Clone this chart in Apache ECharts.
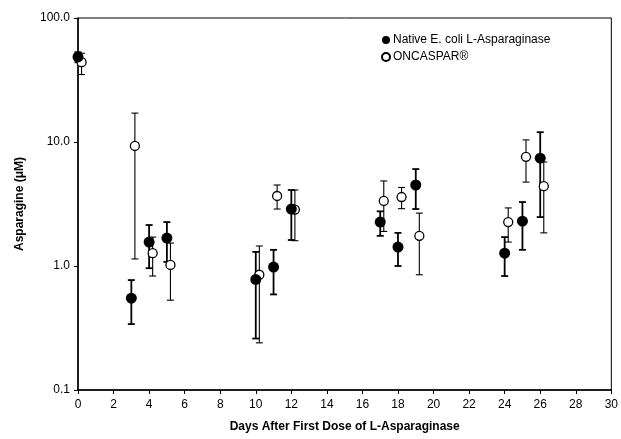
<!DOCTYPE html>
<html>
<head>
<meta charset="utf-8">
<script src="https://cdn.jsdelivr.net/npm/echarts@6/dist/echarts.min.js"></script>
<style>html,body{margin:0;padding:0;background:#fff}#c{width:621px;height:439px}</style>
</head>
<body>
<div id="c"></div>
<script>
// Native E. coli L-Asparaginase
const nativeDays  = [0, 3, 4, 5, 10, 11, 12, 17, 18, 19, 24, 25, 26];
const nativeMean  = [48.5, 0.55, 1.56, 1.68, 0.78, 0.98, 2.88, 2.26, 1.42, 4.5, 1.27, 2.3, 7.4];
const nativeLow   = [44, 0.34, 0.96, 1.08, 0.26, 0.59, 1.62, 1.75, 1.0, 2.88, 0.83, 1.35, 2.48];
const nativeHigh  = [53, 0.77, 2.14, 2.26, 1.3, 1.35, 4.1, 2.76, 1.85, 6.05, 1.71, 3.28, 12.0];
// ONCASPAR
const oncDays  = [0.2, 3.2, 4.2, 5.2, 10.2, 11.2, 12.2, 17.2, 18.2, 19.2, 24.2, 25.2, 26.2];
const oncMean  = [44, 9.3, 1.27, 1.02, 0.85, 3.67, 2.85, 3.35, 3.6, 1.75, 2.26, 7.6, 4.4];
const oncLow   = [35, 1.14, 0.83, 0.53, 0.24, 2.88, 1.6, 1.9, 2.9, 0.85, 1.56, 4.75, 1.85];
const oncHigh  = [52, 17.1, 1.71, 1.53, 1.45, 4.5, 4.1, 4.85, 4.3, 2.67, 2.94, 10.4, 6.9];

const xTicks = [0,2,4,6,8,10,12,14,16,18,20,22,24,26,28,30];
const yTicks = [0.1, 1, 10, 100];

const nativeName = 'Native E. coli L-Asparaginase';
const oncName = 'ONCASPAR®';

const toPts = (d, m) => d.map((x, i) => [x, m[i]]);
const toErr = (d, lo, hi) => d.map((x, i) => [x, lo[i], hi[i]]);

function errRender(width, dash) {
  return function (params, api) {
    const x = api.value(0), lo = api.value(1), hi = api.value(2);
    const pH = api.coord([x, hi]);
    const pL = api.coord([x, lo]);
    const w = 3.5;
    const style = { stroke: '#000', lineWidth: width, lineDash: dash };
    return {
      type: 'group',
      children: [
        { type: 'line', shape: { x1: pH[0], y1: pH[1], x2: pL[0], y2: pL[1] }, style },
        { type: 'line', shape: { x1: pH[0] - w, y1: pH[1], x2: pH[0] + w, y2: pH[1] }, style },
        { type: 'line', shape: { x1: pL[0] - w, y1: pL[1], x2: pL[0] + w, y2: pL[1] }, style }
      ]
    };
  };
}

const chart = echarts.init(document.getElementById('c'));
chart.setOption({
  animation: false,
  backgroundColor: '#fff',
  textStyle: { fontFamily: 'Liberation Sans, Arial, sans-serif' },
  grid: { left: 78, right: 9, top: 18, bottom: 49, show: true, borderColor: '#000', borderWidth: 1 },
  legend: {
    left: 376, top: 29, orient: 'vertical', itemGap: 5,
    itemWidth: 8, itemHeight: 8,
    textStyle: { fontSize: 12, color: '#000', fontFamily: 'Liberation Sans, Arial, sans-serif', padding: [0,0,0,-2] },
    data: [{ name: nativeName, icon: 'circle' }, { name: oncName, icon: 'circle' }]
  },
  xAxis: {
    type: 'value', min: 0, max: 30, interval: 2,
    name: 'Days After First Dose of L-Asparaginase',
    nameLocation: 'middle', nameGap: 31,
    nameTextStyle: { fontWeight: 'bold', fontSize: 12, color: '#000' },
    axisLine: { lineStyle: { color: '#000', width: 1.5 } },
    axisTick: { lineStyle: { color: '#000' }, length: 4 },
    axisLabel: { color: '#000', fontSize: 12, margin: 9 },
    splitLine: { show: false }
  },
  yAxis: {
    type: 'log', logBase: 10, min: 0.1, max: 100,
    name: 'Asparagine (μM)',
    nameLocation: 'middle', nameGap: 52,
    nameTextStyle: { fontWeight: 'bold', fontSize: 12, color: '#000' },
    axisLine: { show: true, lineStyle: { color: '#000', width: 1.5 } },
    axisTick: { show: true, lineStyle: { color: '#000' }, length: 4 },
    axisLabel: { color: '#000', fontSize: 12, margin: 8, formatter: v => Number(v).toFixed(1) },
    splitLine: { show: false }
  },
  series: [
    { type: 'custom', name: 'errOnc', data: toErr(oncDays, oncLow, oncHigh), renderItem: errRender(1.1, null), z: 1, silent: true, encode: { x: 0, y: [1, 2] } },
    { type: 'custom', name: 'errNative', data: toErr(nativeDays, nativeLow, nativeHigh), renderItem: errRender(1.8, null), z: 2, silent: true, encode: { x: 0, y: [1, 2] } },
    { type: 'scatter', name: oncName, data: toPts(oncDays, oncMean), symbol: 'circle', symbolSize: 9,
      itemStyle: { color: '#fff', borderColor: '#000', borderWidth: 1.3, opacity: 1 }, z: 3 },
    { type: 'scatter', name: nativeName, data: toPts(nativeDays, nativeMean), symbol: 'circle', symbolSize: 11,
      itemStyle: { color: '#000', opacity: 1 }, z: 4 }
  ]
});
</script>
</body>
</html>
